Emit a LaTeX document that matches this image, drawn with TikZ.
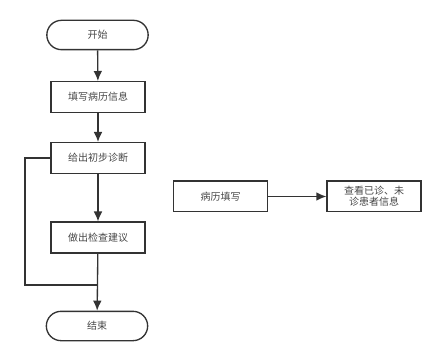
\documentclass[tikz,border=0pt]{standalone}
\usepackage{fontspec}
\newfontfamily\cjk{Noto Sans CJK SC}
\usetikzlibrary{positioning}
\usetikzlibrary{arrows.meta}
\definecolor{linegray}{RGB}{51,51,51}
\definecolor{textgray}{RGB}{70,70,70}

\begin{document}
\begin{tikzpicture}[
    x=0.75pt, y=-0.75pt,
    box/.style={rectangle, draw=linegray, line width=1pt, minimum width=70.5pt, minimum height=23pt, inner sep=1pt, font=\cjk\fontsize{7.5}{8.5}\selectfont, text=textgray, align=center},
    term/.style={box, rounded corners=11pt, minimum width=76pt, minimum height=22pt},
    link/.style={-{Latex[length=7.5pt, width=6.5pt]}, draw=linegray, line width=1pt},
    >=latex
]
    \useasboundingbox (0,0) rectangle (445,352);

    \node[term] (start) at (97.5,35) {开始};
    \node[box] (fill) at (98,97) {填写病历信息};
    \node[box] (diag) at (98,158) {给出初步诊断};
    \node[box] (check) at (98,237.5) {做出检查建议};
    \node[term] (stop) at (97,326) {结束};

    \node[box] (rec) at (220.5,196.5) {病历填写};
    \node[box] (view) at (374,196.5) {查看已诊、未\\诊患者信息};

    \coordinate (corner1) at (25,158);
    \coordinate (corner2) at (25,285);
    \coordinate (join) at (98,285);

    \foreach \a/\b in {start/fill, fill/diag, diag/check, rec/view} {
        \draw[link] (\a) -- (\b);
    }
    \draw[link] (check) -- (stop);
    \draw[draw=linegray, line width=1pt] (diag.west) -- (corner1) -- (corner2) -- (join);
\end{tikzpicture}
\end{document}
